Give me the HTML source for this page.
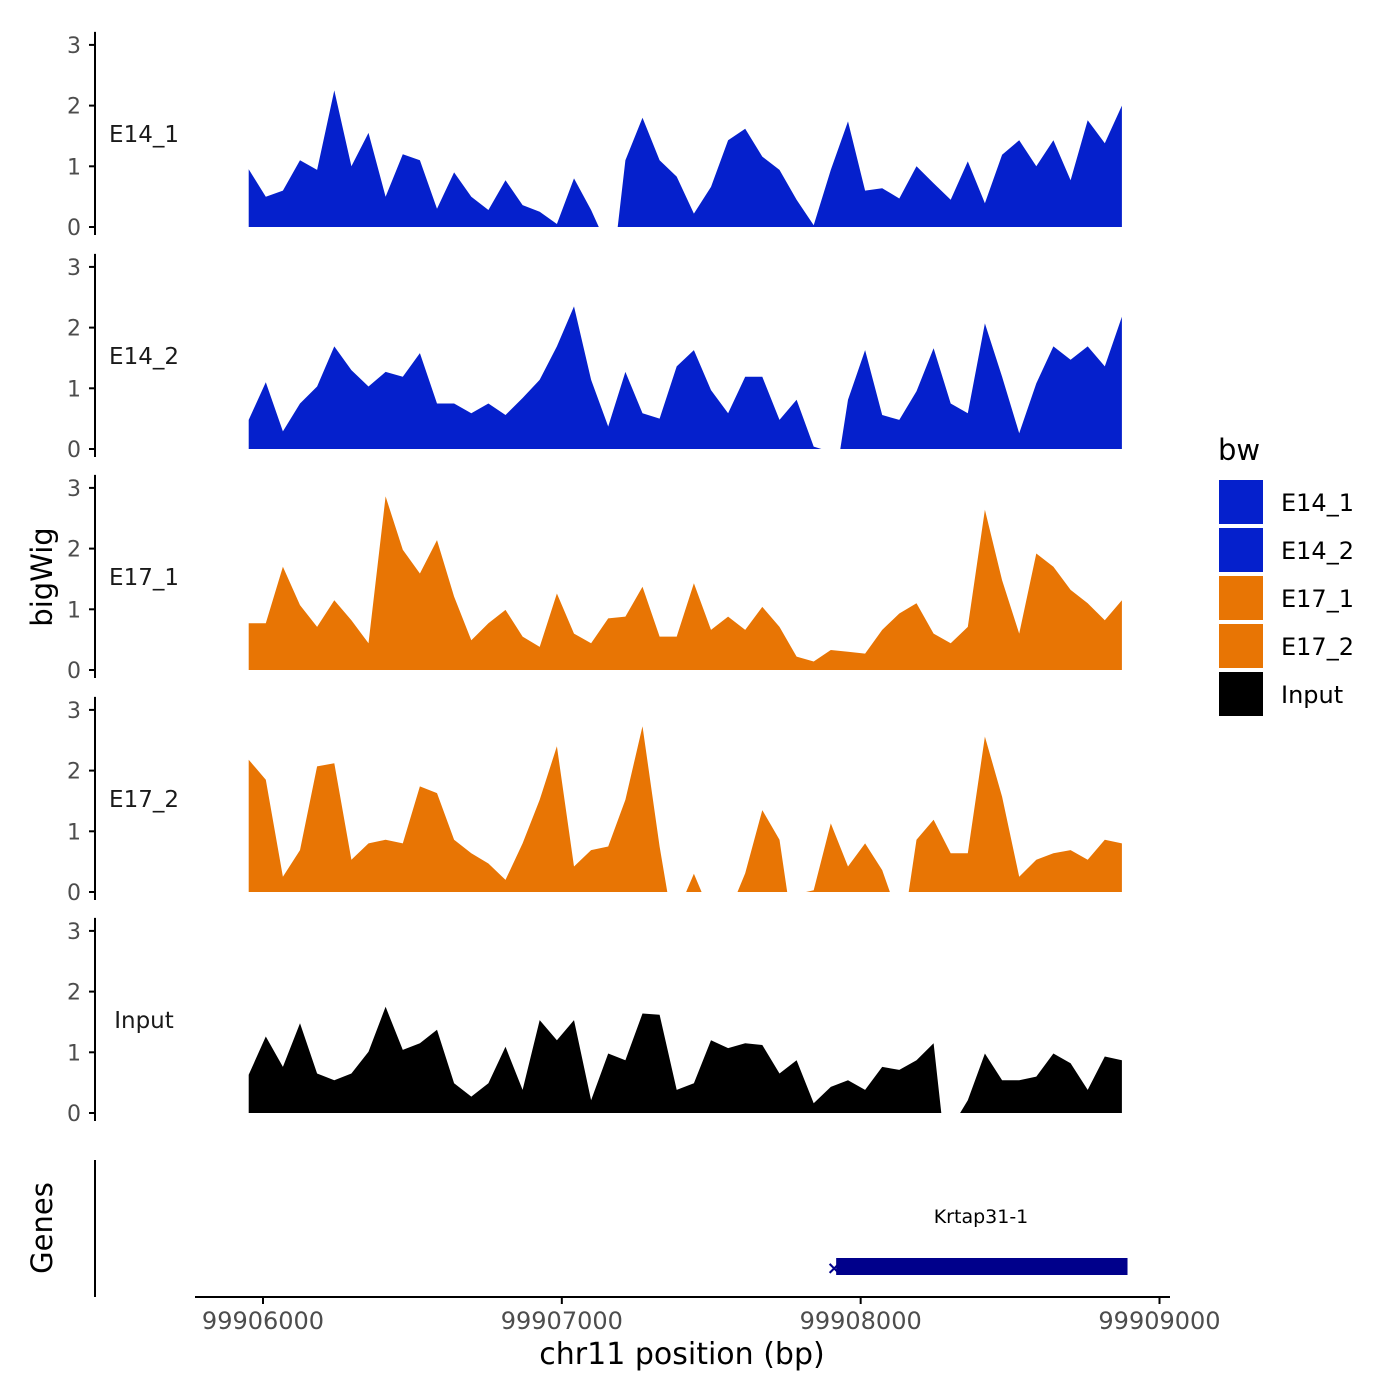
<!DOCTYPE html>
<html><head><meta charset="utf-8"><style>
html,body{margin:0;padding:0;background:#fff;}
svg{display:block;font-family:"DejaVu Sans","Liberation Sans",sans-serif;}
</style></head><body>
<svg id="chart" width="1400" height="1400" viewBox="0 0 1400 1400" xmlns="http://www.w3.org/2000/svg">
<rect width="1400" height="1400" fill="#fff"/>
<g id="tracks"></g>
<g id="gene-panel">
  <line x1="95" y1="1160" x2="95" y2="1297" stroke="#000" stroke-width="2"/>
  <text transform="translate(52,1228) rotate(-90)" text-anchor="middle" font-size="29" fill="#000">Genes</text>
  <text x="981" y="1223" text-anchor="middle" font-size="19" fill="#000">Krtap31-1</text>
</g>
<g id="xaxis">
  <line x1="195" y1="1297" x2="1170" y2="1297" stroke="#000" stroke-width="2"/>
  <text x="682" y="1364" text-anchor="middle" font-size="30" fill="#000">chr11 position (bp)</text>
</g>
<text transform="translate(52,577) rotate(-90)" text-anchor="middle" font-size="29" fill="#000">bigWig</text>
<g id="legend">
  <text x="1218" y="460" font-size="29" fill="#000">bw</text>
</g>
</svg>
<script>
const NS = "http://www.w3.org/2000/svg";
const trackNames = ["E14_1","E14_2","E17_1","E17_2","Input"];
const trackColors = ["#0520CC","#0520CC","#E87504","#E87504","#000000"];
const binStart = 99905952;
const binStep = 57.3;
const yTicks = [0,1,2,3];
const xTicks = [99906000,99907000,99908000,99909000];
const geneStart = 99907918;
const geneEnd = 99908893;
const valsE14_1 = [0.95,0.5,0.6,1.1,0.94,2.25,1.0,1.55,0.5,1.2,1.1,0.3,0.9,0.5,0.28,0.77,0.36,0.25,0.05,0.8,0.28,null,1.1,1.8,1.1,0.83,0.22,0.66,1.43,1.62,1.16,0.94,0.45,0.03,0.94,1.74,0.6,0.64,0.47,1.0,0.72,0.45,1.08,0.39,1.19,1.43,1.0,1.43,0.77,1.76,1.38,2.0];
const valsE14_2 = [0.48,1.1,0.29,0.75,1.03,1.69,1.3,1.03,1.27,1.19,1.58,0.75,0.75,0.59,0.75,0.56,0.84,1.14,1.69,2.35,1.14,0.37,1.27,0.59,0.5,1.36,1.63,0.97,0.59,1.19,1.19,0.48,0.81,0.04,null,0.81,1.63,0.56,0.48,0.95,1.66,0.75,0.59,2.07,1.19,0.26,1.08,1.69,1.47,1.69,1.36,2.18];
const valsE17_1 = [0.77,0.77,1.7,1.07,0.71,1.15,0.82,0.44,2.86,1.98,1.59,2.14,1.21,0.49,0.77,0.99,0.55,0.38,1.26,0.6,0.44,0.85,0.88,1.37,0.55,0.55,1.43,0.66,0.88,0.66,1.04,0.71,0.22,0.14,0.33,0.3,0.27,0.66,0.93,1.1,0.6,0.44,0.71,2.64,1.48,0.6,1.92,1.7,1.32,1.1,0.82,1.15];
const valsE17_2 = [2.18,1.85,0.25,0.69,2.07,2.12,0.53,0.8,0.86,0.8,1.74,1.63,0.86,0.64,0.47,0.2,0.8,1.52,2.4,0.42,0.69,0.75,1.52,2.73,0.75,null,0.3,null,null,0.31,1.35,0.86,null,0.03,1.13,0.42,0.8,0.36,null,0.86,1.19,0.64,0.64,2.56,1.57,0.25,0.53,0.64,0.69,0.53,0.86,0.8];
const valsInput = [0.63,1.26,0.76,1.48,0.65,0.54,0.65,1.01,1.75,1.04,1.15,1.37,0.49,0.27,0.49,1.09,0.38,1.53,1.2,1.53,0.21,0.98,0.87,1.64,1.62,0.38,0.49,1.2,1.07,1.15,1.12,0.65,0.87,0.16,0.43,0.54,0.38,0.76,0.71,0.87,1.15,null,0.21,0.98,0.54,0.54,0.6,0.98,0.82,0.38,0.93,0.87];
const trackVals = [valsE14_1,valsE14_2,valsE17_1,valsE17_2,valsInput];

const xScale = bp => 263 + (bp - 99906000) * 0.29883;
const baselines = [227,449,670,892,1113];
const pxPerUnit = 60.7;
const yScale = (t, v) => baselines[t] - v * pxPerUnit;

function mk(tag, attrs, parent){
  const el = document.createElementNS(NS, tag);
  for (const k in attrs) el.setAttribute(k, attrs[k]);
  parent.appendChild(el);
  return el;
}

const halfPx = binStep * 0.29883 * 0.45;
const tracksG = document.getElementById("tracks");
trackNames.forEach((name, t) => {
  const g = mk("g", {}, tracksG);
  
  
  const vals = trackVals[t];
  let segs = [], cur = [];
  vals.forEach((v, i) => {
    if (v === null) { if (cur.length) segs.push(cur); cur = []; }
    else cur.push({x: xScale(binStart + i * binStep), y: yScale(t, v), i: i});
  });
  if (cur.length) segs.push(cur);
  segs.forEach(seg => {
    const f = seg[0], l = seg[seg.length-1];
    const x0 = (f.i > 0) ? f.x - halfPx : f.x - 4;
    const x1 = (l.i < vals.length - 1) ? l.x + halfPx : l.x;
    let d = "M" + x0.toFixed(1) + "," + baselines[t];
    if (f.i === 0) d += " L" + f.x.toFixed(1) + "," + baselines[t];
    seg.forEach(p => { d += " L" + p.x.toFixed(1) + "," + p.y.toFixed(1); });
    d += " L" + x1.toFixed(1) + "," + baselines[t] + " Z";
    const p = mk("path", {d: d, fill: trackColors[t]}, g);
    
    
  });
  const ax = mk("line", {x1:95, y1:yScale(t,3)-13, x2:95, y2:baselines[t]+8, stroke:"#000", "stroke-width":2}, g);
  
  
  yTicks.forEach(v => {
    const y = yScale(t, v);
    const tk = mk("line", {x1:89, y1:y, x2:95, y2:y, stroke:"#000", "stroke-width":2}, g);
    
    
    const tl = mk("text", {x:81, y:y+8, "text-anchor":"end", "font-size":22, fill:"#4d4d4d"}, g);
    
    
    tl.textContent = v;
  });
  const lab = mk("text", {x:144, y:baselines[t]-85, "text-anchor":"middle", "font-size":23, fill:"#1a1a1a"}, g);
  
  
  lab.textContent = name;
});

const xa = document.getElementById("xaxis");
xTicks.forEach(v => {
  const x = xScale(v);
  const tk = mk("line", {x1:x, y1:1297, x2:x, y2:1304, stroke:"#000", "stroke-width":2}, xa);
  
  
  const tl = mk("text", {x:x, y:1329, "text-anchor":"middle", "font-size":24, fill:"#4d4d4d"}, xa);
  
  
  tl.textContent = v;
});

const gp = document.getElementById("gene-panel");
const gb = mk("rect", {x:xScale(geneStart), y:1258, width:xScale(geneEnd)-xScale(geneStart), height:17, fill:"#00008B"}, gp);


const gx = mk("text", {x:xScale(geneStart)-2, y:1274, "text-anchor":"middle", "font-size":18, fill:"#00008B", "font-weight":"bold"}, gp);


gx.textContent = "×";

const lg = document.getElementById("legend");
trackNames.forEach((name, i) => {
  const y = 480 + i * 48;
  const k = mk("rect", {x:1219, y:y, width:44, height:44, fill:trackColors[i]}, lg);
  
  
  const tx = mk("text", {x:1281, y:y+31, "font-size":24, fill:"#000"}, lg);
  
  
  tx.textContent = name;
});
</script>
</body></html>
